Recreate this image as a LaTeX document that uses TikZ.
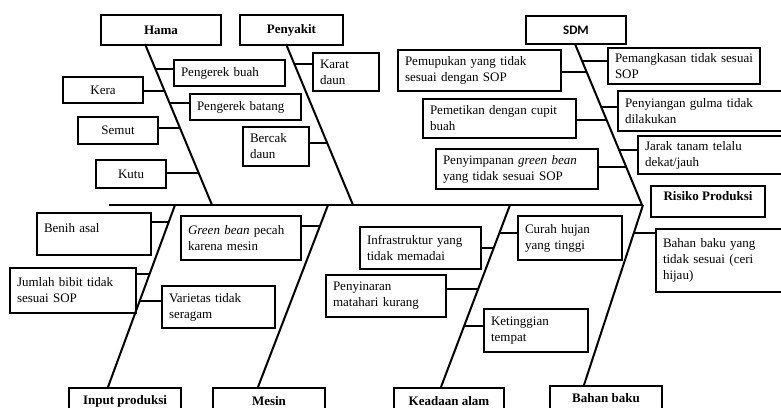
\documentclass[tikz,border=0pt]{standalone}
\usepackage{fontspec}
\setmainfont{Liberation Serif}
\newfontfamily\sdmfont{Carlito}

% horizontal twig from a box edge to its bone
\newcommand\twig[3]{\draw[twig] (#2 |- 0,#3) -- (intersection cs:first line={(#1T)--(#1B)},second line={(0,#3)--(1,#3)});}

\begin{document}
\begin{tikzpicture}[
    x=1pt, y=-1pt,
    font=\fontsize{13}{16}\selectfont,
    box/.style={draw, line width=2pt, anchor=north west, align=left, inner xsep=7pt, inner ysep=3pt},
    head/.style={draw, line width=2pt, anchor=north west, align=center, inner sep=0pt, font=\fontsize{13}{16}\selectfont\bfseries},
    bone/.style={line width=2pt},
    twig/.style={line width=1.7pt}
  ]
    \useasboundingbox (0,0) rectangle (781,407);
    \clip (0,0) rectangle (781,407);

    % heads
    \node[head, minimum width=120pt, minimum height=30pt] (hama) at (100,14) {Hama};
    \node[head, minimum width=103pt, minimum height=30pt] (sakit) at (239,14) {Penyakit};
    \node[head, minimum width=100pt, minimum height=28pt, font=\fontsize{13}{16}\selectfont\sdmfont\bfseries] (sdm) at (525,15) {SDM};
    \node[head, minimum width=112pt, minimum height=26pt] (input) at (68,387) {Input produksi};
    \node[head, minimum width=112pt, minimum height=26pt] (mesin) at (212,387) {Mesin};
    \node[head, minimum width=110pt, minimum height=26pt] (alam) at (393,387) {Keadaan alam};
    \node[head, minimum width=112pt, minimum height=24pt] (bahan) at (549,385) {Bahan baku};
    \node[head, minimum width=114pt, text height=14pt, text depth=17pt] (risiko) at (650,185) {Risiko Produksi};

    % bones and spine
    \coordinate (hamaT) at (145,44);   \coordinate (hamaB) at (212,205);
    \coordinate (sakitT) at (286,44);  \coordinate (sakitB) at (353,205);
    \coordinate (sdmT) at (575,44);    \coordinate (sdmB) at (642,205);
    \coordinate (inputT) at (175,205); \coordinate (inputB) at (108,387);
    \coordinate (mesinT) at (328,205); \coordinate (mesinB) at (258,387);
    \coordinate (alamT) at (510,205);  \coordinate (alamB) at (441,387);
    \coordinate (bahanT) at (643,205); \coordinate (bahanB) at (584,385);
    \coordinate (tail) at (109,205);
    \draw[bone] (tail) -- (sdmB);
    \foreach \b in {hama,sakit,sdm,input,mesin,alam,bahan}
      \draw[bone] (\b T) -- (\b B);

    % Hama
    \node[box, text width=97pt, minimum height=26pt] (pbuah) at (173,59) {Pengerek buah};
    \node[box, text width=66pt, minimum height=26pt, align=center] (kera) at (62,76) {Kera};
    \node[box, text width=97pt, minimum height=26pt] (pbatang) at (189,93) {Pengerek batang};
    \node[box, text width=66pt, minimum height=27pt, align=center] (semut) at (77,116) {Semut};
    \node[box, text width=56pt, minimum height=28pt, align=center] (kutu) at (95,159) {Kutu};
    % Penyakit
    \node[box, text width=52pt, minimum height=38pt] (karat) at (312,52) {Karat\\daun};
    \node[box, text width=52pt, minimum height=39pt] (bercak) at (242,126) {Bercak\\daun};
    % SDM
    \node[box, text width=149pt, minimum height=41pt] (pupuk) at (397,49) {Pemupukan yang tidak\\sesuai dengan SOP};
    \node[box, text width=139pt, minimum height=39pt] (petik) at (422,98) {Pemetikan dengan cupit\\buah};
    \node[box, text width=148pt, minimum height=40pt] (simpan) at (435,148) {Penyimpanan \textit{green bean}\\yang tidak sesuai SOP};
    \node[box, text width=138pt, minimum height=36pt] (pangkas) at (607,47) {Pemangkasan tidak sesuai\\SOP};
    \node[box, text width=166pt, minimum height=40pt] (siang) at (617,90) {Penyiangan gulma tidak\\dilakukan};
    \node[box, text width=146pt, minimum height=38pt] (jarak) at (637,135) {Jarak tanam telalu\\dekat/jauh};
    % Input produksi
    \node[box, text width=100pt, text height=16pt, text depth=20pt] (benih) at (36,212) {Benih asal};
    \node[box, text width=112pt, minimum height=45pt] (jumlah) at (9,267) {Jumlah bibit tidak\\sesuai SOP};
    \node[box, text width=99pt, minimum height=42pt] (varietas) at (161,285) {Varietas tidak\\seragam};
    % Mesin
    \node[box, text width=106pt, minimum height=44pt] (pecah) at (180,215) {\textit{Green bean} pecah\\karena mesin};
    % Keadaan alam
    \node[box, text width=107pt, minimum height=42pt] (infra) at (359,226) {Infrastruktur yang\\tidak memadai};
    \node[box, text width=90pt, minimum height=44pt] (curah) at (517,215) {Curah hujan\\yang tinggi};
    \node[box, text width=106pt, minimum height=42pt] (sinar) at (325,274) {Penyinaran\\matahari kurang};
    \node[box, text width=90pt, minimum height=43pt] (tinggi) at (483,308) {Ketinggian\\tempat};
    % Bahan baku
    \node[box, text width=126pt, minimum height=63pt] (baku) at (655,228) {Bahan baku yang\\tidak sesuai (ceri\\hijau)};

    \twig{hama}{pbuah.west}{69}
    \twig{hama}{kera.east}{91}
    \twig{hama}{pbatang.west}{103}
    \twig{hama}{semut.east}{128}
    \twig{hama}{kutu.east}{173}
    \twig{sakit}{karat.west}{64}
    \twig{sakit}{bercak.east}{143}
    \twig{sdm}{pupuk.east}{72}
    \twig{sdm}{petik.east}{120}
    \twig{sdm}{simpan.east}{167}
    \twig{sdm}{pangkas.west}{61}
    \twig{sdm}{siang.west}{107}
    \twig{sdm}{jarak.west}{150}
    \twig{input}{benih.east}{222}
    \twig{input}{jumlah.east}{274}
    \twig{input}{varietas.west}{301}
    \twig{mesin}{pecah.east}{226}
    \twig{alam}{infra.east}{248}
    \twig{alam}{curah.west}{233}
    \twig{alam}{sinar.east}{289}
    \twig{alam}{tinggi.west}{326}
    \twig{bahan}{baku.west}{233}
  \end{tikzpicture}
\end{document}
